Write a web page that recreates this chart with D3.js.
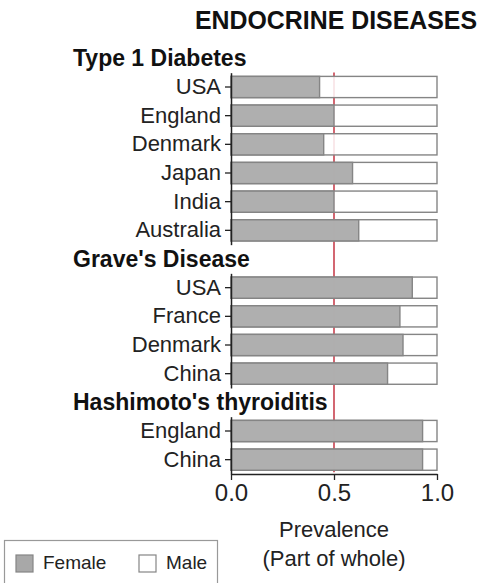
<!DOCTYPE html>
<html>
<head>
<meta charset="utf-8">
<script src="https://cdn.jsdelivr.net/npm/d3@7"></script>
<style>
  html, body { margin: 0; padding: 0; background: #fff; }
  svg { display: block; font-family: "Liberation Sans", Arial, sans-serif; }
</style>
</head>
<body>
<svg id="chart" width="481" height="583"></svg>
<script>
// Disease groups and the countries reported under each one
const groups = ["Type 1 Diabetes", "Grave's Disease", "Hashimoto's thyroiditis"];
const countries = ["USA", "England", "Denmark", "Japan", "India", "Australia",
                   "USA", "France", "Denmark", "China",
                   "England", "China"];
const countryGroup = [0, 0, 0, 0, 0, 0, 1, 1, 1, 1, 2, 2];
// Female share of cases (male share is the remainder to 1.0)
const femaleShare = [0.43, 0.50, 0.45, 0.59, 0.50, 0.62,
                     0.88, 0.82, 0.835, 0.76,
                     0.93, 0.93];
const xTicks = [0.0, 0.5, 1.0];
const legendItems = ["Female", "Male"];

const svg = d3.select("#chart");
const femaleColor = "#a8a8a8";
const edgeColor = "#858585";
const inkColor = "#222";

// Build row list: a header row per group followed by its countries
const rows = [];
groups.forEach((g, gi) => {
  rows.push({ id: "h" + gi, type: "header", label: g, group: gi });
  countries.forEach((c, i) => {
    if (countryGroup[i] === gi) rows.push({ id: "r" + i, type: "bar", label: c, group: gi, value: femaleShare[i] });
  });
});

const pad = 0.26;
const y = d3.scaleBand().domain(rows.map(r => r.id)).range([44, 474])
  .paddingInner(pad).paddingOuter(pad / 2);
const x = d3.scaleLinear().domain([0, 1]).range([231, 437]);
const step = y.step();

// Title
svg.append("text")
  .attr("x", 336).attr("y", 29)
  .attr("text-anchor", "middle")
  .attr("font-size", 25).attr("font-weight", "bold")
  .attr("fill", "#111")
  .attr("textLength", 282).attr("lengthAdjust", "spacingAndGlyphs")
  .text("ENDOCRINE DISEASES");

// Reference line at parity
const barRows = rows.filter(r => r.type === "bar");
svg.append("line")
  .attr("x1", x(0.5)).attr("x2", x(0.5))
  .attr("y1", y(barRows[0].id) - 4)
  .attr("y2", y(barRows[barRows.length - 1].id) + y.bandwidth() + 2)
  .attr("stroke", "#c8404e").attr("stroke-width", 1.6);

// Bars: full-width male background, female portion on top
const bars = svg.append("g").selectAll("g").data(barRows).join("g");
bars.append("rect")
  .attr("x", x(0)).attr("y", d => y(d.id))
  .attr("width", x(1) - x(0)).attr("height", y.bandwidth())
  .attr("fill", "#fff").attr("fill-opacity", 0.85)
  .attr("stroke", edgeColor).attr("stroke-width", 1.4);
bars.append("rect")
  .attr("x", x(0)).attr("y", d => y(d.id))
  .attr("width", d => x(d.value) - x(0)).attr("height", y.bandwidth())
  .attr("fill", femaleColor).attr("fill-opacity", 0.92)
  .attr("stroke", edgeColor).attr("stroke-width", 1.4);

// Group headers
svg.append("g").selectAll("text")
  .data(rows.filter(r => r.type === "header"))
  .join("text")
  .attr("x", 73).attr("y", d => y(d.id) + y.bandwidth() / 2 + 8)
  .attr("font-size", 23).attr("font-weight", "bold").attr("fill", "#111")
  .text(d => d.label);

// One y axis per group, spanning only that group's rows
groups.forEach((g, gi) => {
  const gr = barRows.filter(r => r.group === gi);
  const top = y(gr[0].id) - step * pad / 2;
  const bottom = y(gr[gr.length - 1].id) + y.bandwidth() + step * pad / 2;
  const gy = d3.scaleBand().domain(gr.map(r => r.id)).range([top, bottom])
    .paddingInner(pad).paddingOuter(pad / 2);
  const labels = new Map(gr.map(r => [r.id, r.label]));
  const ax = svg.append("g")
    .attr("transform", `translate(${x(0)},0)`)
    .call(d3.axisLeft(gy).tickSize(6).tickSizeOuter(0).tickPadding(4).tickFormat(id => labels.get(id)));
  ax.select(".domain").attr("stroke", inkColor).attr("stroke-width", 1.5);
  ax.selectAll(".tick line").attr("stroke", inkColor).attr("stroke-width", 1.3);
  ax.selectAll(".tick text").attr("font-size", 22).attr("fill", inkColor)
    .attr("font-family", "Liberation Sans, Arial, sans-serif");
});

// Bottom axis
const xa = svg.append("g")
  .attr("transform", `translate(0,${y.range()[1]})`)
  .call(d3.axisBottom(x).tickValues(xTicks).tickFormat(d3.format(".1f")).tickSize(6).tickSizeOuter(0).tickPadding(4));
xa.select(".domain").attr("stroke", inkColor).attr("stroke-width", 1.5);
xa.selectAll(".tick line").attr("stroke", inkColor).attr("stroke-width", 1.3);
xa.selectAll(".tick text").attr("font-size", 24).attr("fill", inkColor)
  .attr("font-family", "Liberation Sans, Arial, sans-serif");

// Axis title
const xt = svg.append("text")
  .attr("x", x(0.5)).attr("text-anchor", "middle")
  .attr("font-size", 22).attr("fill", inkColor);
xt.append("tspan").attr("x", x(0.5)).attr("y", 537).text("Prevalence");
xt.append("tspan").attr("x", x(0.5)).attr("y", 566).text("(Part of whole)");

// Legend
const lg = svg.append("g");
lg.append("rect").attr("x", 4.5).attr("y", 540.5).attr("width", 213).attr("height", 60)
  .attr("fill", "#fff").attr("stroke", "#999").attr("stroke-width", 1.2);
const legendX = [16, 139];
const legendFill = [femaleColor, "#fff"];
legendItems.forEach((name, i) => {
  lg.append("rect").attr("x", legendX[i]).attr("y", 555).attr("width", 17).attr("height", 17)
    .attr("fill", legendFill[i]).attr("stroke", edgeColor).attr("stroke-width", 1.2);
  lg.append("text").attr("x", legendX[i] + 27).attr("y", 569)
    .attr("font-size", 19).attr("fill", inkColor).text(name);
});
</script>
</body>
</html>
